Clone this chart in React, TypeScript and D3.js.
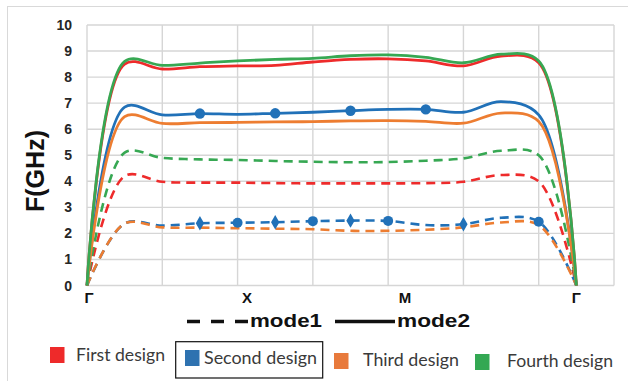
import React from "react";
import * as d3 from "d3";

// Band-path sample index (Γ → X → M → Γ), 14 samples
const pathIndex = [0, 1, 2, 3, 4, 5, 6, 7, 8, 9, 10, 11, 12, 13];

// mode 1 (dashed) frequencies, GHz
const firstMode1 = [0, 4.2, 3.98, 3.95, 3.95, 3.93, 3.92, 3.92, 3.92, 3.93, 3.98, 4.24, 4.0, 0];
const secondMode1 = [0, 2.38, 2.3, 2.39, 2.41, 2.43, 2.47, 2.49, 2.48, 2.32, 2.35, 2.6, 2.45, 0];
const thirdMode1 = [0, 2.38, 2.23, 2.22, 2.2, 2.18, 2.16, 2.1, 2.1, 2.14, 2.23, 2.42, 2.32, 0];
const fourthMode1 = [0, 5.1, 4.9, 4.84, 4.82, 4.78, 4.75, 4.73, 4.74, 4.79, 4.88, 5.17, 5.0, 0];

// mode 2 (solid) frequencies, GHz
const firstMode2 = [0, 8.5, 8.31, 8.4, 8.43, 8.45, 8.58, 8.68, 8.7, 8.62, 8.43, 8.81, 8.55, 0];
const secondMode2 = [0, 6.85, 6.55, 6.6, 6.57, 6.61, 6.65, 6.71, 6.76, 6.76, 6.65, 7.06, 6.55, 0];
const thirdMode2 = [0, 6.48, 6.22, 6.25, 6.26, 6.28, 6.29, 6.32, 6.33, 6.3, 6.23, 6.62, 6.3, 0];
const fourthMode2 = [0, 8.6, 8.45, 8.54, 8.62, 8.68, 8.72, 8.82, 8.85, 8.76, 8.55, 8.88, 8.62, 0];

// marked samples on the second-design curves
const secondMode2Circles = [3, 5, 7, 9];
const secondMode1Circles = [4, 6, 8, 12];
const secondMode1Diamonds = [3, 5, 7, 10];

// symmetry points along the path
const pathLabels = ["Γ", "X", "M", "Γ"];
const pathLabelAt = [0, 4.25, 8.45, 13];

const designNames = ["First design", "Second design", "Third design", "Fourth design"];
const yTicks = [0, 1, 2, 3, 4, 5, 6, 7, 8, 9, 10];

const lineColors = ["#ee2b2b", "#2171b8", "#ed7d31", "#37a853"];
const swatchColors = ["#ee2a2a", "#2e72b0", "#e87a3c", "#33a853"];

const W = 628;
const H = 381;

export default function App() {
  const x = d3.scaleLinear().domain([0, 14]).range([87, 614]);
  const y = d3.scaleLinear().domain([0, 10]).range([285.5, 25]);

  const line = d3
    .line<number>()
    .x((_, i) => x(pathIndex[i]))
    .y((d) => y(d))
    .curve(d3.curveCatmullRom.alpha(0.5));

  const mode1 = [firstMode1, secondMode1, thirdMode1, fourthMode1];
  const mode2 = [firstMode2, secondMode2, thirdMode2, fourthMode2];

  const vGrid = d3.range(0, 15, 2);

  const diamond = d3.symbol(d3.symbolDiamond, 60)() as string;

  const legendX = [50, 185, 334, 475];
  const legendY = [347, 350, 353, 354];
  const legendTextX = [76, 204, 363, 507];
  const legendBase = [361, 363.5, 365.5, 367];
  const legendLen = [89, 113, 96, 106];

  return (
    <svg
      width={W}
      height={H}
      style={{ position: "absolute", left: 0, top: 0, background: "#fff" }}
      fontFamily="'Liberation Sans', Arial, sans-serif"
    >
      <rect x={7.5} y={6.5} width={700} height={500} fill="none" stroke="#d9d9d9" strokeWidth={1} />

      {/* grid */}
      <g stroke="#d6d6d6" strokeWidth={1.4}>
        {yTicks.map((t) => (
          <line key={"h" + t} x1={x(0)} x2={x(14)} y1={y(t)} y2={y(t)} />
        ))}
        {vGrid.map((t) => (
          <line key={"v" + t} x1={x(t)} x2={x(t)} y1={y(0)} y2={y(10)} />
        ))}
      </g>

      {/* y tick labels */}
      <g fontWeight="bold" fontSize={14} fill="#262626" textAnchor="end">
        {yTicks.map((t) => (
          <text key={"yt" + t} x={72} y={y(t)} dy="0.36em">
            {t}
          </text>
        ))}
      </g>

      <text
        transform={`translate(44,171) rotate(-90)`}
        textAnchor="middle"
        fontWeight="bold"
        fontSize={26}
        fill="#111"
        textLength={82}
        lengthAdjust="spacingAndGlyphs"
      >
        F(GHz)
      </text>

      {/* path labels */}
      <g fontWeight="bold" fontSize={15} fill="#111" textAnchor="middle">
        {pathLabels.map((l, i) => (
          <text key={"pl" + i} x={x(pathLabelAt[i]) + (i === 0 ? 2 : 0)} y={303}>
            {l}
          </text>
        ))}
      </g>

      {/* mode 1 curves */}
      {mode1.map((s, i) => (
        <path
          key={"m1" + i}
          d={line(s) as string}
          fill="none"
          stroke={lineColors[i]}
          strokeWidth={2.6}
          strokeDasharray="9,6"
        />
      ))}
      {secondMode1Circles.map((k) => (
        <circle key={"c1" + k} cx={x(k)} cy={y(secondMode1[k])} r={5} fill={lineColors[1]} />
      ))}
      {secondMode1Diamonds.map((k) => (
        <path
          key={"d1" + k}
          d={diamond}
          transform={`translate(${x(k)},${y(secondMode1[k])})`}
          fill={lineColors[1]}
        />
      ))}

      {/* mode 2 curves */}
      {mode2.map((s, i) => (
        <path
          key={"m2" + i}
          d={line(s) as string}
          fill="none"
          stroke={lineColors[i]}
          strokeWidth={2.8}
        />
      ))}
      {secondMode2Circles.map((k) => (
        <circle key={"c2" + k} cx={x(k)} cy={y(secondMode2[k])} r={5.2} fill={lineColors[1]} />
      ))}

      {/* line-style key */}
      <line x1={187} x2={248} y1={321.5} y2={321.5} stroke="#111" strokeWidth={3.5} strokeDasharray="13,11" />
      <text x={250} y={327} fontWeight="bold" fontSize={18} fill="#111" textLength={72} lengthAdjust="spacingAndGlyphs">
        mode1
      </text>
      <line x1={335} x2={395} y1={321.5} y2={321.5} stroke="#111" strokeWidth={3.5} />
      <text x={397} y={327} fontWeight="bold" fontSize={18} fill="#111" textLength={73} lengthAdjust="spacingAndGlyphs">
        mode2
      </text>

      {/* design key */}
      <rect x={175.7} y={341.7} width={147} height={36.3} fill="none" stroke="#111" strokeWidth={1.2} />
      {designNames.map((n, i) => (
        <g key={"lg" + i}>
          <rect x={legendX[i]} y={legendY[i]} width={14.5} height={16} fill={swatchColors[i]} />
          <text
            x={legendTextX[i]}
            y={legendBase[i]}
            fontFamily="Lato, 'Open Sans', sans-serif"
            fontSize={18}
            fill="#3a3a3a"
            textLength={legendLen[i]}
            lengthAdjust="spacingAndGlyphs"
          >
            {n}
          </text>
        </g>
      ))}
    </svg>
  );
}
